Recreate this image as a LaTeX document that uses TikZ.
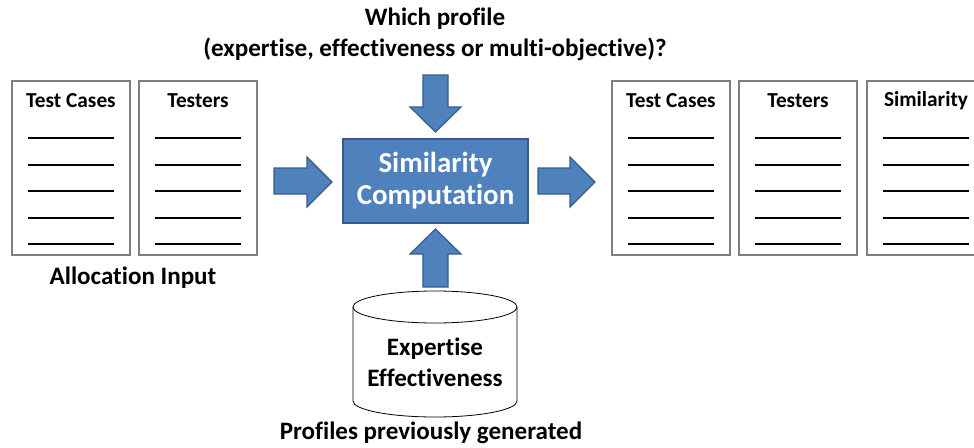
\documentclass[tikz,border=0pt]{standalone}
\usepackage{fontspec}
\setmainfont{Carlito}[Ligatures={NoCommon}]
\definecolor{boxblue}{HTML}{4F81BD}
\definecolor{boxedge}{HTML}{385D8A}
\definecolor{listedge}{HTML}{7F7F7F}
\tikzset{
  listbox/.style={draw=listedge, line width=0.8pt, fill=white, minimum width=88.5pt, minimum height=130.5pt, inner sep=0pt},
  rule/.style={line width=1.4pt, black},
  title/.style={font=\bfseries\fontsize{16}{19}\selectfont, inner sep=0pt},
  caption/.style={font=\bfseries\fontsize{18.8}{21}\selectfont, inner sep=0pt, align=center},
  fatarrow/.style={fill=boxblue, draw=boxedge, line width=0.9pt, line join=miter},
  compbox/.style={fill=boxblue, draw=boxedge, line width=1.2pt, minimum width=138.75pt, minimum height=63pt, inner sep=0pt, align=center, text=white, font=\bfseries\fontsize{21.7}{27}\selectfont},
  dbline/.style={draw=black, line width=0.6pt, fill=white},
}
\begin{document}
\begin{tikzpicture}[x=0.75pt,y=-0.75pt]
\useasboundingbox (0,0) rectangle (974,447);
\clip (0,0) rectangle (974,447);
% list boxes
\foreach \n/\cx/\t in {tc/71/Test Cases, ts/198/Testers, tcr/671/Test Cases, tsr/798/Testers, sim/926/Similarity}{
  \node[listbox] (\n) at (\cx,168) {};
  \node[title] (\n-t) at (\cx,101) {\t};
  \foreach \ly in {138,164.67,191.33,217.67,244.33}{
    \draw[rule] (\cx-43,\ly) -- (\cx+43,\ly);
  }
}
\node[caption] (allin) at (133,278) {Allocation Input};
% central box
\node[compbox] (comp) at (435.5,181) {Similarity\\[-3pt]Computation};
% question text
\node[caption] (which) at (435,34) {Which profile\\[2pt](expertise, effectiveness or multi-objective)?};
% arrows
\draw[fatarrow] (423,75) -- (448,75) -- (448,107) -- (461,107) -- (435.5,132) -- (410,107) -- (423,107) -- cycle;
\draw[fatarrow] (423,287) -- (448,287) -- (448,254) -- (461,254) -- (435.5,229) -- (410,254) -- (423,254) -- cycle;
\draw[fatarrow] (274,168) -- (307,168) -- (307,157) -- (332,182) -- (307,207) -- (307,194) -- (274,194) -- cycle;
\draw[fatarrow] (538,168) -- (570,168) -- (570,157) -- (595,182) -- (570,207) -- (570,194) -- (538,194) -- cycle;
% database cylinder
\path[dbline] (353,307) -- (353,401) arc[start angle=180, end angle=0, x radius=82, y radius=16] -- (517,307) arc[start angle=0, end angle=-180, x radius=82, y radius=16] -- cycle;
\draw[line width=0.6pt] (353,307) arc[start angle=180, end angle=0, x radius=82, y radius=16];
\node[caption, font=\bfseries\fontsize{18.8}{23.5}\selectfont] (dbt) at (435,362) {Expertise\\Effectiveness};
\node[caption] (prev) at (431,433) {Profiles previously generated};
\end{tikzpicture}
\end{document}
